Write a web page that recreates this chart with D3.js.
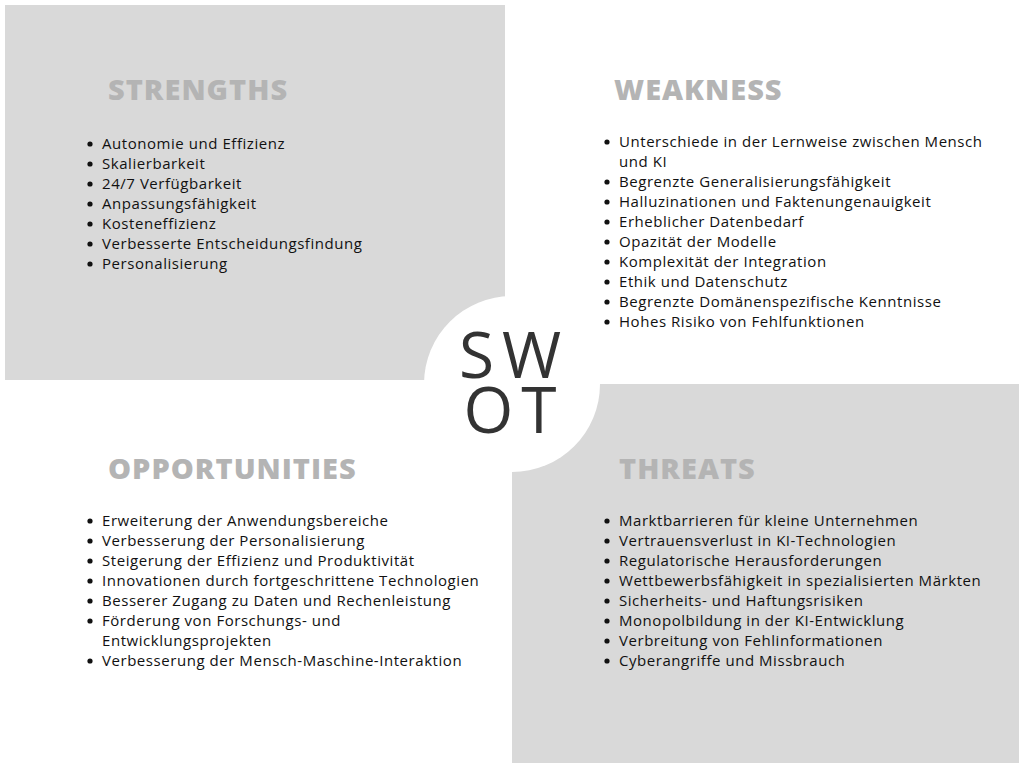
<!DOCTYPE html>
<html><head><meta charset="utf-8">
<script src="https://cdn.jsdelivr.net/npm/d3@7"></script>
<style>body{margin:0;background:#fff}</style>
</head><body>
<svg id="chart" width="1024" height="768"></svg>
<script>
// quadrant titles
var titles = ["STRENGTHS", "WEAKNESS", "OPPORTUNITIES", "THREATS"];
// bullet lines per quadrant (wrapped lines start with "\t" = continuation)
var strengths = ["Autonomie und Effizienz", "Skalierbarkeit", "24/7 Verfügbarkeit", "Anpassungsfähigkeit",
  "Kosteneffizienz", "Verbesserte Entscheidungsfindung", "Personalisierung"];
var weakness = ["Unterschiede in der Lernweise zwischen Mensch", "\tund KI", "Begrenzte Generalisierungsfähigkeit",
  "Halluzinationen und Faktenungenauigkeit", "Erheblicher Datenbedarf", "Opazität der Modelle",
  "Komplexität der Integration", "Ethik und Datenschutz", "Begrenzte Domänenspezifische Kenntnisse",
  "Hohes Risiko von Fehlfunktionen"];
var opportunities = ["Erweiterung der Anwendungsbereiche", "Verbesserung der Personalisierung",
  "Steigerung der Effizienz und Produktivität", "Innovationen durch fortgeschrittene Technologien",
  "Besserer Zugang zu Daten und Rechenleistung", "Förderung von Forschungs- und", "\tEntwicklungsprojekten",
  "Verbesserung der Mensch-Maschine-Interaktion"];
var threats = ["Marktbarrieren für kleine Unternehmen", "Vertrauensverlust in KI-Technologien",
  "Regulatorische Herausforderungen", "Wettbewerbsfähigkeit in spezialisierten Märkten",
  "Sicherheits- und Haftungsrisiken", "Monopolbildung in der KI-Entwicklung",
  "Verbreitung von Fehlinformationen", "Cyberangriffe und Missbrauch"];

var svg = d3.select("#chart");
var font = "'Open Sans', sans-serif";

svg.append("rect").attr("x", 5).attr("y", 5).attr("width", 500).attr("height", 375).attr("fill", "#d9d9d9");
svg.append("rect").attr("x", 512).attr("y", 384).attr("width", 507).attr("height", 379).attr("fill", "#d9d9d9");
svg.append("circle").attr("cx", 512).attr("cy", 384).attr("r", 88).attr("fill", "#fff");

svg.selectAll("text.swot").data(["SW", "OT"]).enter().append("text")
  .attr("x", 514).attr("y", (d, i) => 378 + i * 55)
  .attr("text-anchor", "middle").attr("font-family", font).attr("font-size", 64)
  .attr("letter-spacing", 8).attr("fill", "#333").text(d => d);

var quads = [
  {title: titles[0], lines: strengths, tx: 108, ty: 100, x: 102, y: 149},
  {title: titles[1], lines: weakness, tx: 614, ty: 100, x: 619, y: 147},
  {title: titles[2], lines: opportunities, tx: 108, ty: 479, x: 102, y: 526},
  {title: titles[3], lines: threats, tx: 619, ty: 479, x: 619, y: 526}
];

quads.forEach(q => {
  svg.append("text").attr("x", q.tx).attr("y", q.ty).attr("font-family", font)
    .attr("font-size", 29).attr("font-weight", 800).attr("fill", "#b4b4b4")
    .attr("letter-spacing", 1).text(q.title);
  var g = svg.append("g");
  var items = g.selectAll("g").data(q.lines).enter().append("g")
    .attr("transform", (d, i) => `translate(${q.x},${q.y + i * 20})`);
  items.filter(d => d[0] !== "\t").append("circle")
    .attr("cx", -12).attr("cy", -5).attr("r", 2.6).attr("fill", "#111");
  items.append("text").attr("font-family", font).attr("font-size", 15).attr("fill", "#111")
    .attr("letter-spacing", 0.55).text(d => d.replace("\t", ""));
});
</script>
</body></html>
